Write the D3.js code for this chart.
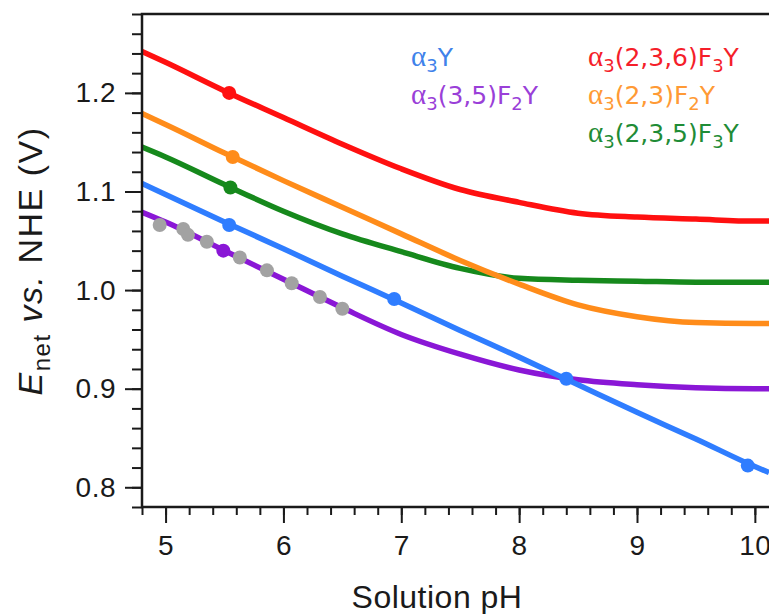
<!DOCTYPE html>
<html>
<head>
<meta charset="utf-8">
<script src="https://cdn.jsdelivr.net/npm/d3@7"></script>
<style>
  body { margin: 0; background: #fff; }
  svg { display: block; font-family: "Liberation Sans", Arial, sans-serif; }
</style>
</head>
<body>
<script>
// pH grid shared by the fitted curves
const phGrid = [4.8, 5.0, 5.5, 6.0, 6.5, 7.0, 7.5, 8.0, 8.5, 9.0, 9.5, 10.0, 10.12];

// E_net (V) at each grid pH
const redE    = [1.242, 1.231, 1.202, 1.175, 1.148, 1.123, 1.102, 1.089, 1.078, 1.074, 1.072, 1.070, 1.070];
const orangeE = [1.179, 1.168, 1.139, 1.111, 1.084, 1.057, 1.030, 1.006, 0.985, 0.973, 0.967, 0.966, 0.966];
const greenE  = [1.145, 1.135, 1.107, 1.080, 1.057, 1.039, 1.022, 1.012, 1.010, 1.009, 1.008, 1.008, 1.008];
const blueE   = [1.108, 1.097, 1.069, 1.042, 1.014, 0.987, 0.959, 0.932, 0.904, 0.876, 0.849, 0.821, 0.815];
const purpleE = [1.079, 1.069, 1.040, 1.011, 0.982, 0.955, 0.935, 0.919, 0.909, 0.904, 0.901, 0.900, 0.900];

// measured points [pH, E]
const redPts    = [[5.54, 1.200]];
const orangePts = [[5.57, 1.135]];
const greenPts  = [[5.55, 1.104]];
const bluePts   = [[5.54, 1.066], [6.94, 0.991], [8.40, 0.910], [9.94, 0.822]];
const purplePts = [[5.49, 1.040]];
const grayPts   = [[4.95, 1.066], [5.15, 1.062], [5.19, 1.056], [5.35, 1.049], [5.63, 1.033],
                   [5.86, 1.020], [6.07, 1.007], [6.31, 0.993], [6.50, 0.981]];

// axis ticks
const xMajor = [5, 6, 7, 8, 9, 10];
const xMinor = d3.range(4.8, 10.13, 0.2);
const yMajor = [0.8, 0.9, 1.0, 1.1, 1.2];
const yMinor = d3.range(0.78, 1.281, 0.02);

const w = 769;
const h = 614;
const mLeft = 142, mRight = 769, mTop = 14, mBottom = 507;

const xScale = d3.scaleLinear().domain([4.8, 10.12]).range([mLeft, mRight]);
const yScale = d3.scaleLinear().domain([0.78, 1.28]).range([mBottom, mTop]);

const svg = d3.select("body")
  .append("svg")
  .attr("width", w)
  .attr("height", h);

const line = d3.line()
  .x((d) => xScale(d[0]))
  .y((d) => yScale(d[1]))
  .curve(d3.curveMonotoneX);

const series = [
  { name: "purple", color: "#8a17d6", e: purpleE, pts: purplePts },
  { name: "green",  color: "#16891c", e: greenE,  pts: greenPts },
  { name: "orange", color: "#ff8c1a", e: orangeE, pts: orangePts },
  { name: "red",    color: "#ff1010", e: redE,    pts: redPts },
  { name: "blue",   color: "#2f7dff", e: blueE,   pts: bluePts }
];

svg.append("clipPath").attr("id", "plot")
  .append("rect").attr("x", mLeft).attr("y", mTop)
  .attr("width", mRight - mLeft).attr("height", mBottom - mTop);

const plot = svg.append("g").attr("clip-path", "url(#plot)");

series.forEach((s) => {
  plot.append("path")
    .datum(phGrid.map((p, i) => [p, s.e[i]]))
    .attr("fill", "none")
    .attr("stroke", s.color)
    .attr("stroke-width", 5.5)
    .attr("d", line);
});

series.forEach((s) => {
  plot.selectAll("circle." + s.name)
    .data(s.pts)
    .enter()
    .append("circle")
    .attr("class", s.name)
    .attr("cx", (d) => xScale(d[0]))
    .attr("cy", (d) => yScale(d[1]))
    .attr("r", 7)
    .attr("fill", s.color);
});

plot.selectAll("circle.gray")
  .data(grayPts)
  .enter()
  .append("circle")
  .attr("class", "gray")
  .attr("cx", (d) => xScale(d[0]))
  .attr("cy", (d) => yScale(d[1]))
  .attr("r", 7)
  .attr("fill", "#a2a2a2");

// axes
const fmt = d3.format(".1f");

svg.append("g")
  .attr("transform", "translate(0," + mBottom + ")")
  .call(d3.axisBottom(xScale).tickValues(xMinor).tickSize(8).tickFormat(""))
  .call((g) => g.select(".domain").remove());

svg.append("g")
  .attr("transform", "translate(0," + mBottom + ")")
  .call(d3.axisBottom(xScale).tickValues(xMajor).tickSize(16).tickPadding(12).tickFormat(d3.format("d")))
  .call((g) => g.select(".domain").remove());

svg.append("g")
  .attr("transform", "translate(" + mLeft + ",0)")
  .call(d3.axisLeft(yScale).tickValues(yMinor).tickSize(10).tickFormat(""))
  .call((g) => g.select(".domain").remove());

svg.append("g")
  .attr("transform", "translate(" + mLeft + ",0)")
  .call(d3.axisLeft(yScale).tickValues(yMajor).tickSize(17).tickPadding(9).tickFormat(fmt))
  .call((g) => g.select(".domain").remove());

svg.selectAll(".tick line").attr("stroke", "#1a1a1a").attr("stroke-width", 2);
svg.selectAll(".tick text")
  .attr("fill", "#1a1a1a")
  .attr("font-size", 28)
  .attr("letter-spacing", 0.5)
  .attr("font-family", "Liberation Sans, Arial, sans-serif");

// frame (right side runs off the picture)
svg.append("path")
  .attr("d", "M" + (mRight + 2) + "," + mTop + "H" + mLeft + "V" + mBottom + "H" + (mRight + 2))
  .attr("fill", "none")
  .attr("stroke", "#1a1a1a")
  .attr("stroke-width", 2.5);

// axis titles
svg.append("text")
  .attr("x", 437)
  .attr("y", 608)
  .attr("text-anchor", "middle")
  .attr("font-size", 32)
  .attr("letter-spacing", 0.5)
  .attr("fill", "#1a1a1a")
  .text("Solution pH");

const yt = svg.append("text")
  .attr("transform", "translate(42," + 261 + ") rotate(-90)")
  .attr("text-anchor", "middle")
  .attr("font-size", 34)
  .attr("letter-spacing", 1.5)
  .attr("fill", "#1a1a1a");
yt.append("tspan").attr("font-style", "italic").text("E");
yt.append("tspan").attr("font-size", 24).attr("dy", 8).text("net");
yt.append("tspan").attr("dy", -8).text(" ");
yt.append("tspan").attr("font-style", "italic").text("vs.");
yt.append("tspan").text(" NHE (V)");

// legend
const legendNames = [
  ["Y"],
  ["(3,5)F", "2", "Y"],
  ["(2,3,6)F", "3", "Y"],
  ["(2,3)F", "2", "Y"],
  ["(2,3,5)F", "3", "Y"]
];
const legendColors = ["#3f82ea", "#9a3fd8", "#f51e2a", "#ff9a35", "#1f8c36"];
const legendX = [411, 411, 588, 588, 588];
const legendY = [66, 104, 66, 104, 142];

legendNames.forEach((parts, i) => {
  const t = svg.append("text")
    .attr("x", legendX[i])
    .attr("y", legendY[i])
    .attr("font-family", "DejaVu Sans, sans-serif")
    .attr("font-size", 25)
    .attr("fill", legendColors[i]);
  t.append("tspan").attr("font-family", "Liberation Serif, serif").attr("font-size", 29).text("α");
  t.append("tspan").attr("font-size", 18).attr("dy", 6).text("3");
  t.append("tspan").attr("dy", -6).text(parts[0]);
  if (parts.length > 1) {
    t.append("tspan").attr("font-size", 18).attr("dy", 6).text(parts[1]);
    t.append("tspan").attr("dy", -6).text(parts[2]);
  }
});
</script>
</body>
</html>
